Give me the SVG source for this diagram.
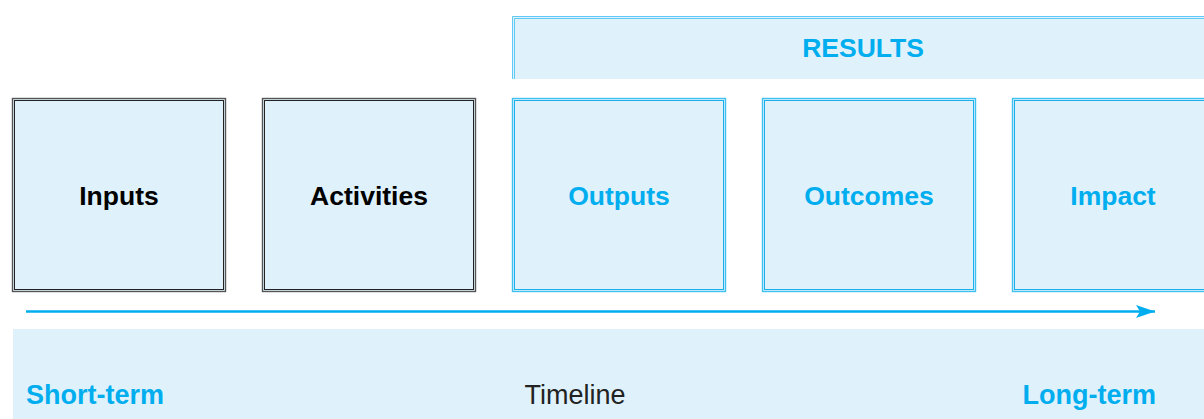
<svg xmlns="http://www.w3.org/2000/svg" width="1204" height="419" viewBox="0 0 1204 419">
<style>
.fill{fill:#dff1fb}
.ob{fill:#dff1fb;stroke:#555;stroke-width:1.4}
.ib{fill:none;stroke:#222;stroke-width:1}
.obb{fill:#dff1fb;stroke:#3fc1f3;stroke-width:1.4}
.ibb{fill:none;stroke:#1bb0ec;stroke-width:1}
.t{font-family:"Liberation Sans",Arial,sans-serif;font-size:26.5px;font-weight:bold;text-anchor:middle}
.k{fill:#000}
.b{fill:#00aeef}
.bt{font-family:"Liberation Sans",Arial,sans-serif;font-size:27px}
</style>
<defs>
<marker id="ah" markerWidth="22" markerHeight="14" refX="19" refY="7" orient="auto" markerUnits="userSpaceOnUse">
<path d="M0,0.5 L19,7 L0,13.5 L4,7 Z" fill="#00aeef"/>
</marker>
</defs>
<g id="results">
<rect class="fill" x="512" y="16" width="700" height="63"/>
<path d="M512.5,79 V16.5 H1204" fill="none" stroke="#5fcaf5" stroke-width="1"/>
<path d="M514.5,79 V18.5 H1204" fill="none" stroke="#5fcaf5" stroke-width="1"/>
<text class="t b" x="863" y="57">RESULTS</text>
</g>
<g id="timeline-band">
<rect class="fill" x="13" y="329" width="1191" height="90"/>
<text class="bt" x="26" y="404" font-weight="bold" fill="#00aeef">Short-term</text>
<text class="bt" x="575" y="404" fill="#222" text-anchor="middle">Timeline</text>
<text class="bt" x="1156" y="404" font-weight="bold" fill="#00aeef" text-anchor="end">Long-term</text>
</g>
<g id="inputs">
<rect class="ob" x="12.5" y="98.5" width="213" height="193"/>
<rect class="ib" x="14.5" y="100.5" width="209" height="189"/>
<text class="t k" x="119" y="205">Inputs</text>
</g>
<g id="activities">
<rect class="ob" x="262.5" y="98.5" width="213" height="193"/>
<rect class="ib" x="264.5" y="100.5" width="209" height="189"/>
<text class="t k" x="369" y="205">Activities</text>
</g>
<g id="outputs">
<rect class="obb" x="512.5" y="98.5" width="213" height="193"/>
<rect class="ibb" x="514.5" y="100.5" width="209" height="189"/>
<text class="t b" x="619" y="205">Outputs</text>
</g>
<g id="outcomes">
<rect class="obb" x="762.5" y="98.5" width="213" height="193"/>
<rect class="ibb" x="764.5" y="100.5" width="209" height="189"/>
<text class="t b" x="869" y="205">Outcomes</text>
</g>
<g id="impact">
<rect class="obb" x="1012.5" y="98.5" width="213" height="193"/>
<rect class="ibb" x="1014.5" y="100.5" width="209" height="189"/>
<text class="t b" x="1113" y="205">Impact</text>
</g>
<g id="connectors">
<line x1="26" y1="311.5" x2="1155" y2="311.5" stroke="#00aeef" stroke-width="2.5" marker-end="url(#ah)"/>
</g>
</svg>
